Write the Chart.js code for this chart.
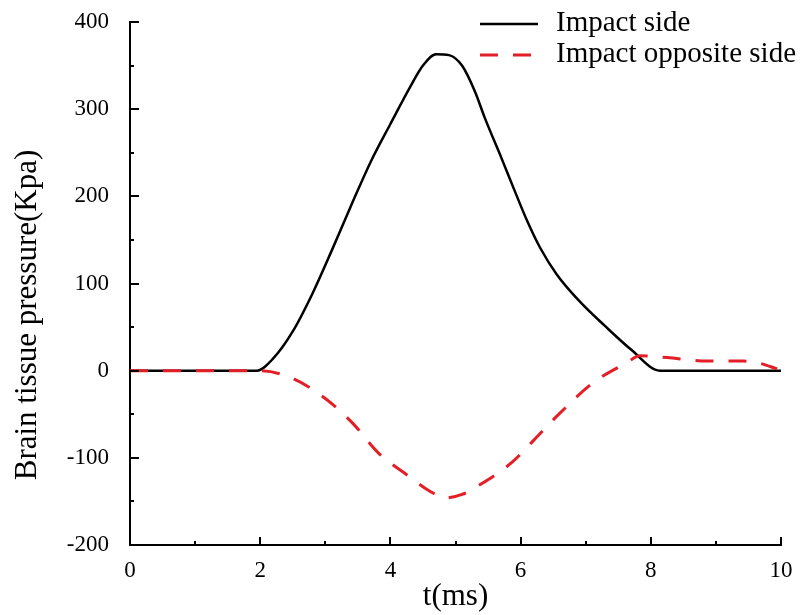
<!DOCTYPE html>
<html>
<head>
<meta charset="utf-8">
<script src="https://cdn.jsdelivr.net/npm/chart.js@4.4.0/dist/chart.umd.min.js"></script>
<style>
  html, body { margin: 0; padding: 0; background: #fff; }
  #wrap { width: 812px; height: 615px; }
</style>
</head>
<body>
<div id="wrap"><canvas id="chart" width="812" height="615"></canvas></div>
<script>
// values
const impactT = [0, 1, 1.95, 2.2, 2.5, 2.8, 3.1, 3.4, 3.7, 4.0, 4.3, 4.5, 4.7, 4.9, 5.1, 5.3, 5.45, 5.7, 5.9, 6.1, 6.3, 6.55, 6.9, 7.3, 7.7, 8.14, 9, 10];
const impactP = [0, 0, 0, 14, 45, 88, 138, 190, 240, 283, 325, 350, 363, 362, 350, 320, 290, 245, 208, 172, 141, 111, 80, 51, 24, 0, 0, 0];

const oppositeT = [0, 1, 2, 2.5, 3.0, 3.43, 3.81, 4.3, 4.6, 4.85, 5.1, 5.35, 5.87, 6.2, 6.6, 7.11, 7.63, 7.83, 8.25, 8.86, 9.42, 9.65, 9.94];
const oppositeP = [0, 0, 0, -9, -32, -61, -94, -122, -138, -146, -142, -132, -105, -80, -49, -14, 9, 17, 15, 11, 11, 9, 2];

const seriesNames = ['Impact side', 'Impact opposite side'];
const xTitle = 't(ms)';
const yTitle = 'Brain tissue pressure(Kpa)';

const serif = "'Liberation Serif', 'Times New Roman', serif";
const red = 'rgb(228,30,38)';

function toPoints(xs, ys) {
    return xs.map((x, i) => ({ x: x, y: ys[i] }));
}

// tick marks pointing into the plot
const innerTicks = {
    id: 'innerTicks',
    afterDraw(chart) {
        const ctx = chart.ctx;
        const xs = chart.scales.x;
        const ys = chart.scales.y;
        ctx.save();
        ctx.strokeStyle = '#000';
        ctx.lineWidth = 2;
        xs.ticks.forEach(t => {
            const px = Math.round(xs.getPixelForValue(t.value));
            const len = t.value % 2 === 0 ? 8 : 4;
            ctx.beginPath();
            ctx.moveTo(px, xs.top);
            ctx.lineTo(px, xs.top - len);
            ctx.stroke();
        });
        ys.ticks.forEach(t => {
            const py = Math.round(ys.getPixelForValue(t.value));
            const len = t.value % 100 === 0 ? 9 : 4;
            ctx.beginPath();
            ctx.moveTo(ys.right, py);
            ctx.lineTo(ys.right + len, py);
            ctx.stroke();
        });
        ctx.restore();
    }
};

// y title and legend drawn by hand
const extras = {
    id: 'extras',
    afterDraw(chart) {
        const ctx = chart.ctx;
        ctx.save();
        ctx.fillStyle = '#000';
        ctx.font = '31px ' + serif;
        ctx.textAlign = 'center';
        ctx.textBaseline = 'middle';
        ctx.translate(28, 315);
        ctx.rotate(-Math.PI / 2);
        ctx.fillText(yTitle, 0, 0);
        ctx.restore();

        ctx.save();
        ctx.font = '29px ' + serif;
        ctx.textAlign = 'left';
        ctx.textBaseline = 'middle';
        const rows = [24, 55];
        chart.data.datasets.forEach((ds, i) => {
            const y = rows[i];
            ctx.strokeStyle = ds.borderColor;
            ctx.lineWidth = ds.borderWidth;
            ctx.setLineDash(ds.borderDash || []);
            ctx.beginPath();
            ctx.moveTo(480, y);
            ctx.lineTo(538, y);
            ctx.stroke();
            ctx.setLineDash([]);
            ctx.fillStyle = '#000';
            ctx.fillText(ds.label, 556, y - 1);
        });
        ctx.restore();
    }
};

new Chart(document.getElementById('chart'), {
    type: 'line',
    data: {
        datasets: [{
            label: seriesNames[0],
            data: toPoints(impactT, impactP),
            borderColor: '#000',
            borderWidth: 2.5,
            pointRadius: 0,
            cubicInterpolationMode: 'monotone',
            fill: false,
            order: 1
        }, {
            label: seriesNames[1],
            data: toPoints(oppositeT, oppositeP),
            borderColor: red,
            borderWidth: 3,
            borderDash: [18, 15],
            pointRadius: 0,
            cubicInterpolationMode: 'monotone',
            fill: false,
            order: 0
        }]
    },
    options: {
        responsive: false,
        animation: false,
        layout: { padding: { top: 22, right: 31, left: 0, bottom: 0 } },
        plugins: {
            legend: { display: false },
            tooltip: { enabled: false }
        },
        scales: {
            x: {
                type: 'linear',
                min: 0,
                max: 10,
                grid: { display: false, drawTicks: false },
                border: { display: true, color: '#000', width: 2 },
                ticks: {
                    stepSize: 1,
                    padding: 12,
                    color: '#000',
                    maxRotation: 0,
                    autoSkip: false,
                    font: { family: serif, size: 23 },
                    callback: v => (v % 2 === 0 ? v : '')
                },
                title: {
                    display: true,
                    text: xTitle,
                    color: '#000',
                    font: { family: serif, size: 31 },
                    padding: { top: 0, bottom: 0 }
                },
                afterFit: s => { s.height = 70; }
            },
            y: {
                min: -200,
                max: 400,
                grid: { display: false, drawTicks: false },
                border: { display: true, color: '#000', width: 2 },
                ticks: {
                    stepSize: 50,
                    padding: 21,
                    color: '#000',
                    autoSkip: false,
                    font: { family: serif, size: 23 },
                    callback: v => (v % 100 === 0 ? v : '')
                },
                afterFit: s => {
                    s.width = 130;
                    s.paddingTop = 12;
                    s.paddingBottom = 12;
                }
            }
        }
    },
    plugins: [innerTicks, extras]
});
</script>
</body>
</html>
